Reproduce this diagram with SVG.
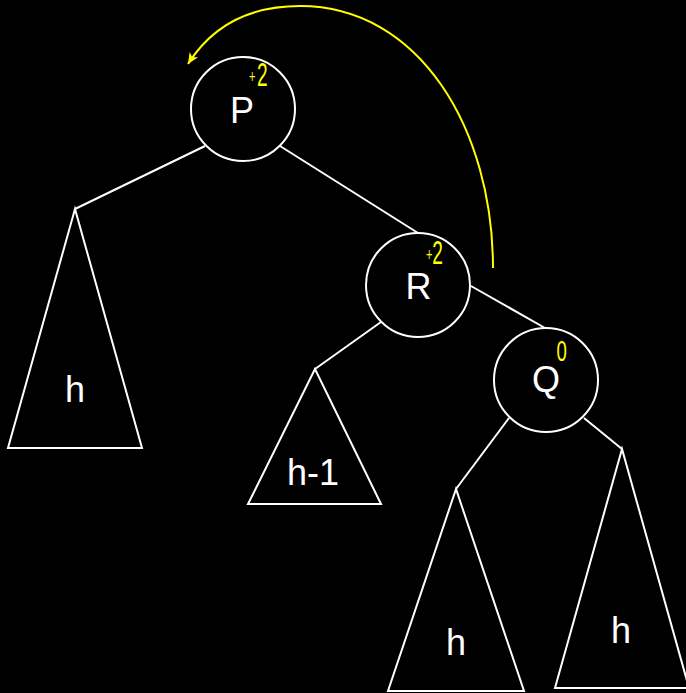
<svg xmlns="http://www.w3.org/2000/svg" width="686" height="693" viewBox="0 0 686 693">
  <style>
    .edge { stroke: #ffffff; stroke-width: 2; fill: none; }
    .node { stroke: #ffffff; stroke-width: 2; fill: #000000; }
    .lbl { font-family: "Liberation Sans", Arial, sans-serif; font-size: 36px; fill: #ffffff; text-anchor: middle; }
    .bal { font-family: "Liberation Sans", Arial, sans-serif; fill: #ffff00; }
    .rot { stroke: #ffff00; stroke-width: 2; fill: none; }
  </style>
  <defs>
    <marker id="arrowY" markerUnits="userSpaceOnUse" markerWidth="12" markerHeight="12" viewBox="0 0 12 12" refX="11" refY="6" orient="auto">
      <path d="M0,1 L11,6 L0,11 L3,6 z" fill="#ffff00"/>
    </marker>
  </defs>
  <rect x="0" y="0" width="686" height="693" fill="#000000"/>

  <g id="connectors">
    <line class="edge" x1="205" y1="146" x2="75" y2="209"/>
    <line class="edge" x1="280" y1="146" x2="418" y2="233"/>
    <line class="edge" x1="381" y1="322" x2="315" y2="369"/>
    <line class="edge" x1="471" y1="286" x2="545" y2="328"/>
    <line class="edge" x1="509" y1="418" x2="456" y2="489"/>
    <line class="edge" x1="584" y1="418" x2="622" y2="449"/>
    <path class="rot" d="M 493 268 C 493 130 420 6 300 6 C 250 6 212 26 188 64" marker-end="url(#arrowY)"/>
  </g>

  <g id="node-P">
    <circle class="node" cx="243" cy="109" r="52"/>
    <text class="lbl" x="242" y="123">P</text>
    <text class="bal" transform="translate(249,86) scale(0.58,1)"><tspan font-size="19" dy="-3">+</tspan><tspan x="14" dy="3" font-size="33">2</tspan></text>
  </g>

  <g id="node-R">
    <circle class="node" cx="418" cy="285" r="52"/>
    <text class="lbl" x="418.5" y="299">R</text>
    <text class="bal" transform="translate(426,264) scale(0.58,1)"><tspan font-size="19" dy="-3">+</tspan><tspan x="11" dy="3" font-size="33">2</tspan></text>
  </g>

  <g id="node-Q">
    <circle class="node" cx="546" cy="380" r="52"/>
    <text class="lbl" x="546" y="392">Q</text>
    <text class="bal" font-size="30" transform="translate(556.5,361) scale(0.62,1)">0</text>
  </g>

  <g id="subtree-left-h">
    <polygon class="node" points="75,209 8,448 142,448"/>
    <text class="lbl" x="75" y="402">h</text>
  </g>

  <g id="subtree-h-1">
    <polygon class="node" points="315,369 248,504 381,504"/>
    <text class="lbl" x="313" y="485">h-1</text>
  </g>

  <g id="subtree-Q-left-h">
    <polygon class="node" points="456,489 388,691 524,691"/>
    <text class="lbl" x="456" y="655">h</text>
  </g>

  <g id="subtree-Q-right-h">
    <polygon class="node" points="622,449 555,688 689,688"/>
    <text class="lbl" x="621" y="643">h</text>
  </g>
</svg>
